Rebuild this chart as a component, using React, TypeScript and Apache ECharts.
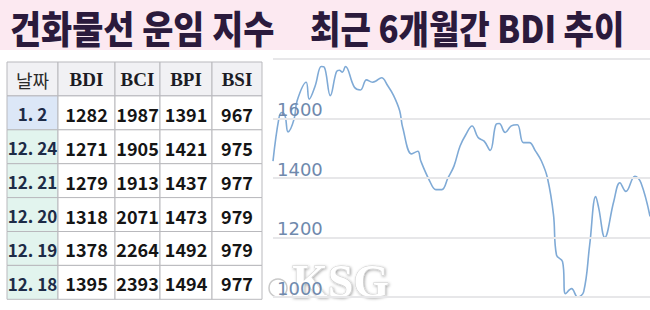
import React, { useEffect, useRef } from "react";
import * as echarts from "echarts";

const titleLeft = "건화물선 운임 지수";
const titleRight = "최근 6개월간 BDI 추이";

const tableHeaders = ["날짜", "BDI", "BCI", "BPI", "BSI"];
const tableDates = ["1. 2", "12. 24", "12. 21", "12. 20", "12. 19", "12. 18"];
const tableBDI = [1282, 1271, 1279, 1318, 1378, 1395];
const tableBCI = [1987, 1905, 1913, 2071, 2264, 2393];
const tableBPI = [1391, 1421, 1437, 1473, 1492, 1494];
const tableBSI = [967, 975, 977, 979, 979, 977];

// trading-day index and BDI value
const trendDays = [
  0, 2, 3, 4, 5, 7, 8, 11, 12, 14, 16, 17, 19, 21, 22, 23, 24, 27, 29, 31, 33, 34, 36, 38, 40,
  42, 43, 46, 48, 49, 52, 54, 56, 58, 60, 62, 64, 66, 68, 70, 72, 74, 75, 77, 79, 81, 83, 85,
  87, 89, 91, 93, 94, 96, 97, 99, 101, 103, 105, 107, 108, 110, 113, 115, 117, 120, 122, 125,
];
const trendBDI = [
  1457, 1603, 1620, 1609, 1555, 1598, 1660, 1722, 1665, 1710, 1775, 1773, 1677, 1756, 1762, 1756,
  1775, 1705, 1696, 1730, 1722, 1725, 1737, 1711, 1677, 1626, 1570, 1481, 1490, 1457, 1389, 1361,
  1361, 1400, 1440, 1507, 1547, 1575, 1536, 1524, 1493, 1581, 1583, 1553, 1575, 1579, 1519, 1519,
  1491, 1457, 1400, 1277, 1141, 1119, 1011, 1028, 1000, 1017, 1175, 1338, 1299, 1200, 1322, 1384,
  1355, 1406, 1384, 1271,
];

const yMin = 1000;
const yMax = 1800;
const yStep = 200;

const W = 650;
const H = 310;

const colX = [7, 58, 115, 160, 212, 262];
const tableTop = 62;
const rowH = 33.9;

function buildTable() {
  const children: any[] = [];
  const rows: (string | number)[][] = [tableHeaders];
  tableDates.forEach((d, i) => {
    rows.push([d, tableBDI[i], tableBCI[i], tableBPI[i], tableBSI[i]]);
  });
  rows.forEach((row, r) => {
    row.forEach((val, c) => {
      const x = colX[c];
      const w = colX[c + 1] - colX[c];
      const y = tableTop + r * rowH;
      let fill = "#ffffff";
      if (r === 0) fill = "#f1f1f4";
      else if (c === 0) fill = r === 1 ? "#dce7f7" : "#e2f4ee";
      children.push({
        type: "rect",
        shape: { x, y, width: w, height: rowH },
        style: { fill, stroke: "#b9b9bd", lineWidth: 1 },
        z: 100,
      });
      let font = "bold 18px 'Noto Sans CJK KR', 'Noto Sans', sans-serif";
      let color = "#151515";
      if (r === 0) {
        if (c === 0) {
          font = "18px 'Noto Sans CJK KR', sans-serif";
          color = "#2a2a2a";
        } else {
          font = "bold 19px 'Liberation Serif', serif";
          color = "#1c1c24";
        }
      } else if (c === 0) {
        font = "bold 17px 'Noto Sans CJK KR', 'Noto Sans', sans-serif";
        color = "#1d2b47";
      }
      children.push({
        type: "text",
        x: x + w / 2,
        y: y + rowH / 2 + 1,
        z: 101,
        style: {
          text: String(val),
          font,
          fill: color,
          align: "center",
          verticalAlign: "middle",
        },
      });
    });
  });
  return children;
}

export default function App() {
  const ref = useRef<HTMLDivElement>(null);
  useEffect(() => {
    if (!ref.current) return;
    const chart = echarts.init(ref.current, undefined, { renderer: "svg" });
    const seriesData = trendDays.map((d, i) => [d, trendBDI[i]]);
    chart.setOption({
      animation: false,
      backgroundColor: "#ffffff",
      grid: { left: 273, right: 0, top: 59, bottom: 13 },
      xAxis: {
        type: "value",
        min: trendDays[0],
        max: trendDays[trendDays.length - 1],
        show: false,
      },
      yAxis: {
        type: "value",
        min: yMin,
        max: yMax,
        interval: yStep,
        z: 10,
        axisLine: { show: false },
        axisTick: { show: false },
        splitLine: { show: true, lineStyle: { color: "#e7e7e9", width: 2 } },
        axisLabel: {
          inside: true,
          margin: 4,
          showMaxLabel: false,
          showMinLabel: true,
          verticalAlign: "bottom",
          formatter: (v: number) => String(v),
          fontFamily: "'DejaVu Sans', Verdana, sans-serif",
          fontSize: 18,
          color: "#6f89ad",
        },
      },
      series: [
        {
          type: "line",
          data: seriesData,
          smooth: 0.4,
          showSymbol: false,
          lineStyle: { color: "#7faad6", width: 1.6 },
          z: 3,
        },
      ],
      graphic: [
        // watermark logo
        {
          type: "circle",
          shape: { cx: 278, cy: 288, r: 9 },
          style: { fill: "rgba(255,255,255,0.8)", stroke: "#c9c9c9", lineWidth: 1.5 },
          z: 1,
        },
        {
          type: "text",
          x: 292,
          y: 304,
          z: 1,
          style: {
            text: "KSG",
            font: "bold 46px 'Liberation Serif', serif",
            fill: "#ffffff",
            stroke: "#cfcfcf",
            lineWidth: 1,
            verticalAlign: "bottom",
            textShadowColor: "rgba(0,0,0,0.35)",
            textShadowBlur: 3,
            textShadowOffsetX: 1,
            textShadowOffsetY: 1,
          },
        },
        // title band
        {
          type: "rect",
          shape: { x: 0, y: 0, width: W, height: 50 },
          style: { fill: "#fce9f1" },
          z: 100,
        },
        {
          type: "text",
          x: 10,
          y: 26,
          scaleX: 0.89,
          z: 101,
          style: {
            text: titleLeft,
            font: "900 38px 'Noto Sans CJK KR', sans-serif",
            fill: "#2b1a3c",
            verticalAlign: "middle",
          },
        },
        {
          type: "text",
          x: 310,
          y: 26,
          scaleX: 0.87,
          z: 101,
          style: {
            text: titleRight,
            font: "900 38px 'Noto Sans CJK KR', sans-serif",
            fill: "#2b1a3c",
            verticalAlign: "middle",
          },
        },
        ...buildTable(),
      ],
    });
    return () => chart.dispose();
  }, []);
  return (
    <div
      ref={ref}
      style={{ position: "fixed", left: 0, top: 0, width: W, height: H }}
    />
  );
}
